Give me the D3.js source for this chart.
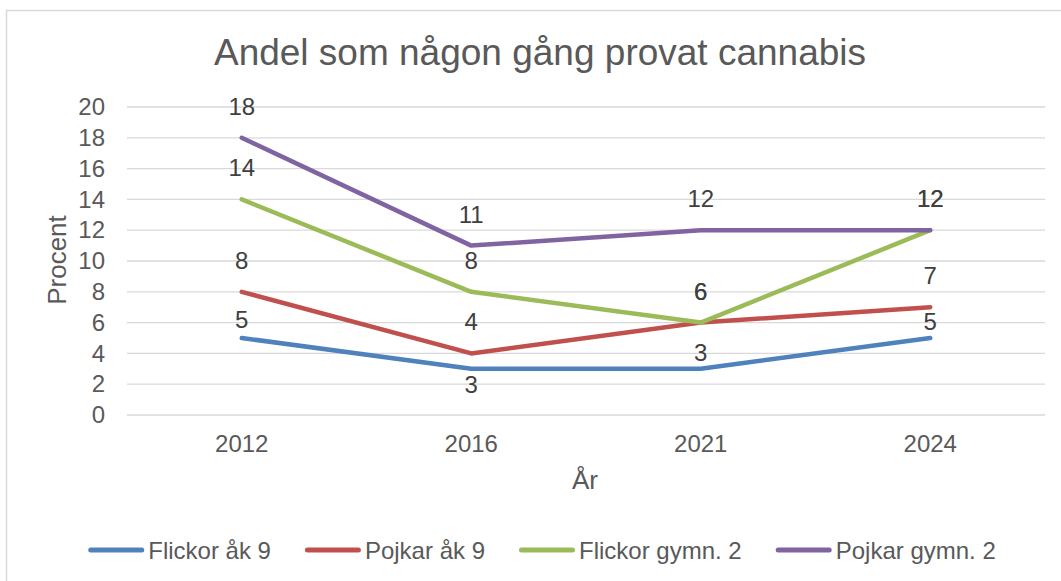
<!DOCTYPE html>
<html>
<head>
<meta charset="utf-8">
<script src="https://cdn.jsdelivr.net/npm/d3@7"></script>
<style>
  body { margin: 0; background: #fff; }
  svg { display: block; font-family: "Liberation Sans", Arial, sans-serif; }
</style>
</head>
<body>
<div id="chart"></div>
<script>
// data
const years = ['2012', '2016', '2021', '2024'];
const flickorAk9 = [5, 3, 3, 5];
const pojkarAk9 = [8, 4, 6, 7];
const flickorGymn2 = [14, 8, 6, 12];
const pojkarGymn2 = [18, 11, 12, 12];
const seriesNames = ['Flickor åk 9', 'Pojkar åk 9', 'Flickor gymn. 2', 'Pojkar gymn. 2'];
const yTicks = [0, 2, 4, 6, 8, 10, 12, 14, 16, 18, 20];

const colors = ['#4F81BD', '#C0504D', '#9BBB59', '#8064A2'];
// baseline offset of the value labels (px from the point), per series / per point
const labelDy = [[-10, 24, -8, -8], [-23, -23, -23, -23], [-23, -23, -23, -23], [-23, -23, -23, -23]];

const series = [flickorAk9, pojkarAk9, flickorGymn2, pojkarGymn2].map((v, i) => ({
  name: seriesNames[i], values: v, color: colors[i], dy: labelDy[i]
}));

const W = 1061, H = 581;
const margin = {left: 127, right: 16, top: 107, bottom: 166};

const svg = d3.select('#chart').append('svg')
  .attr('width', W)
  .attr('height', H);

// chart border (runs off the bottom/right edge)
svg.append('rect')
  .attr('x', 6.5).attr('y', 10.5)
  .attr('width', 1100).attr('height', 700)
  .attr('fill', '#fff')
  .attr('stroke', '#D9D9D9')
  .attr('stroke-width', 1.5);

const x = d3.scaleBand()
  .domain(years)
  .range([margin.left, W - margin.right]);

const y = d3.scaleLinear()
  .domain([0, 20])
  .range([H - margin.bottom, margin.top]);

// title
svg.append('text')
  .attr('x', 540).attr('y', 65)
  .attr('text-anchor', 'middle')
  .attr('fill', '#595959')
  .style('font-size', '37px')
  .text('Andel som någon gång provat cannabis');

// gridlines
svg.append('g')
  .selectAll('line')
  .data(yTicks)
  .join('line')
  .attr('x1', margin.left).attr('x2', W - margin.right)
  .attr('y1', d => y(d)).attr('y2', d => y(d))
  .attr('stroke', '#D9D9D9')
  .attr('stroke-width', 1.3);

// y axis
const yAxis = svg.append('g')
  .attr('transform', `translate(${margin.left},0)`)
  .call(d3.axisLeft(y).tickValues(yTicks).tickSize(0).tickPadding(22));
yAxis.select('.domain').remove();
yAxis.selectAll('text')
  .attr('fill', '#595959')
  .style('font-size', '24px')
  .style('font-family', '"Liberation Sans", Arial, sans-serif');

// x axis
const xAxis = svg.append('g')
  .attr('transform', `translate(0,${H - margin.bottom})`)
  .call(d3.axisBottom(x).tickSize(0).tickPadding(20));
xAxis.select('.domain').remove();
xAxis.selectAll('text')
  .attr('fill', '#595959')
  .style('font-size', '24px')
  .style('font-family', '"Liberation Sans", Arial, sans-serif');

// axis titles
svg.append('text')
  .attr('transform', 'translate(66,260) rotate(-90)')
  .attr('text-anchor', 'middle')
  .attr('fill', '#595959')
  .style('font-size', '26px')
  .text('Procent');

svg.append('text')
  .attr('x', 585).attr('y', 489)
  .attr('text-anchor', 'middle')
  .attr('fill', '#595959')
  .style('font-size', '26px')
  .text('År');

// lines
const cx = d => x(d) + x.bandwidth() / 2;
const line = d3.line()
  .x((d, i) => cx(years[i]))
  .y(d => y(d));

svg.append('g')
  .selectAll('path')
  .data(series)
  .join('path')
  .attr('d', d => line(d.values))
  .attr('fill', 'none')
  .attr('stroke', d => d.color)
  .attr('stroke-width', 4.5)
  .attr('stroke-linecap', 'round')
  .attr('stroke-linejoin', 'round');

// value labels
series.forEach(s => {
  svg.append('g')
    .selectAll('text')
    .data(s.values)
    .join('text')
    .attr('x', (d, i) => cx(years[i]))
    .attr('y', (d, i) => y(d) + s.dy[i])
    .attr('text-anchor', 'middle')
    .attr('fill', '#404040')
    .style('font-size', '24px')
    .text(d => d);
});

// legend
const legend = svg.append('g');
const items = legend.selectAll('g')
  .data(series)
  .join('g');
items.append('line')
  .attr('x1', 2.5).attr('x2', 53.5)
  .attr('y1', 0).attr('y2', 0)
  .attr('stroke', d => d.color)
  .attr('stroke-width', 5)
  .attr('stroke-linecap', 'round');
items.append('text')
  .attr('x', 60).attr('y', 8.5)
  .attr('fill', '#595959')
  .style('font-size', '24px')
  .text(d => d.name);

let pos = 0;
const widths = [];
items.each(function () {
  widths.push(60 + this.querySelector('text').getComputedTextLength());
});
const gap = 34;
const total = d3.sum(widths) + gap * (widths.length - 1);
let start = 542 - total / 2;
items.attr('transform', (d, i) => {
  const tx = start + pos;
  pos += widths[i] + gap;
  return `translate(${tx},550)`;
});
</script>
</body>
</html>
